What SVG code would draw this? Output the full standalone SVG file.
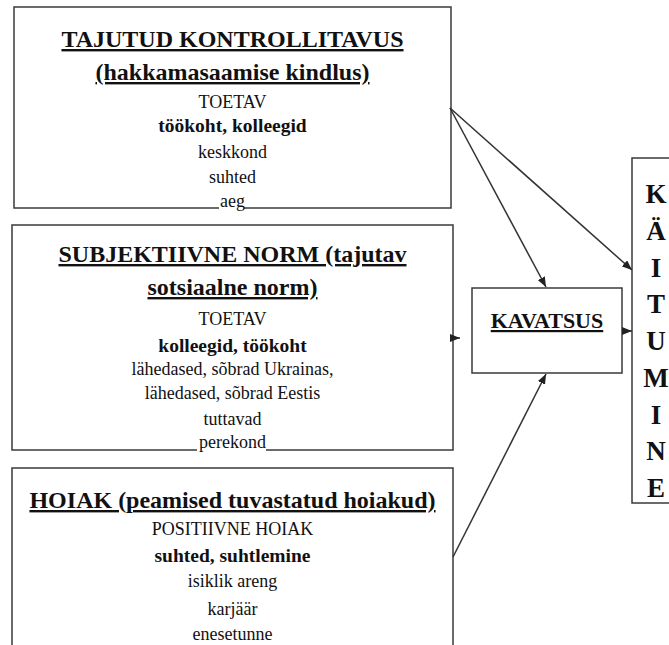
<svg xmlns="http://www.w3.org/2000/svg" width="669" height="645" viewBox="0 0 669 645">
<style>
.box{fill:#fff;stroke:#3a3a3a;stroke-width:1.5}
.t{font-family:"Liberation Serif","Times New Roman",serif;fill:#111;text-anchor:middle}
.h{font-size:24px;font-weight:bold;text-decoration:underline}
.r{font-size:18px}
.b{font-size:19.5px;font-weight:bold}
.v{font-size:27px;font-weight:bold}
.c{stroke:#333;stroke-width:1.5;fill:none;marker-end:url(#ah)}
.gap{fill:#fff;stroke:none}
</style>
<defs>
<marker id="ah" markerWidth="10" markerHeight="8" refX="10" refY="4" orient="auto" markerUnits="userSpaceOnUse">
<path d="M0,0 L10,4 L0,8 Z" fill="#222"/>
</marker>
</defs>
<rect width="669" height="645" fill="#fff"/>
<g id="kontrollitavus">
<rect class="box" x="14" y="7" width="437" height="201"/>
<rect class="gap" x="219" y="196" width="25" height="14"/>
<text class="t h" x="232.5" y="47">TAJUTUD KONTROLLITAVUS</text>
<text class="t h" x="232.5" y="80">(hakkamasaamise kindlus)</text>
<text class="t r" x="232.5" y="108">TOETAV</text>
<text class="t b" x="232.5" y="132">töökoht, kolleegid</text>
<text class="t r" x="232.5" y="158">keskkond</text>
<text class="t r" x="232.5" y="183">suhted</text>
<text class="t r" x="232.5" y="207">aeg</text>
</g>
<g id="norm">
<rect class="box" x="12" y="225" width="441" height="225"/>
<rect class="gap" x="197" y="440" width="69" height="12"/>
<text class="t h" x="232.5" y="262">SUBJEKTIIVNE NORM (tajutav</text>
<text class="t h" x="232.5" y="295">sotsiaalne norm)</text>
<text class="t r" x="232.5" y="325">TOETAV</text>
<text class="t b" x="232.5" y="352">kolleegid, töökoht</text>
<text class="t r" x="232.5" y="375">lähedased, sõbrad Ukrainas,</text>
<text class="t r" x="232.5" y="399">lähedased, sõbrad Eestis</text>
<text class="t r" x="232.5" y="425">tuttavad</text>
<text class="t r" x="232.5" y="448">perekond</text>
</g>
<g id="hoiak">
<rect class="box" x="12" y="468" width="441" height="200"/>
<text class="t h" x="232.5" y="508">HOIAK (peamised tuvastatud hoiakud)</text>
<text class="t r" x="232.5" y="535">POSITIIVNE HOIAK</text>
<text class="t b" x="232.5" y="562">suhted, suhtlemine</text>
<text class="t r" x="232.5" y="587">isiklik areng</text>
<text class="t r" x="232.5" y="615">karjäär</text>
<text class="t r" x="232.5" y="640">enesetunne</text>
</g>
<g id="kavatsus">
<rect class="box" x="472" y="288" width="150" height="85"/>
<text class="t" style="font-size:22px;font-weight:bold;text-decoration:underline" x="547" y="328">KAVATSUS</text>
</g>
<g id="kaitumine">
<rect class="box" x="632" y="158" width="60" height="345"/>
<text class="t v" x="656" y="203">K</text>
<text class="t v" x="656" y="240">Ä</text>
<text class="t v" x="656" y="276.5">I</text>
<text class="t v" x="656" y="313">T</text>
<text class="t v" x="656" y="350">U</text>
<text class="t v" x="656" y="387">M</text>
<text class="t v" x="656" y="423.5">I</text>
<text class="t v" x="656" y="460">N</text>
<text class="t v" x="656" y="497">E</text>
</g>
<g id="connectors">
<path class="c" d="M450,108 L546,287"/>
<path class="c" d="M450,108 L632,270"/>
<path class="c" d="M450,338 L460,338"/>
<path class="c" d="M622,331 L632,331"/>
<path class="c" d="M453,557 L546,374"/>
</g>
</svg>
